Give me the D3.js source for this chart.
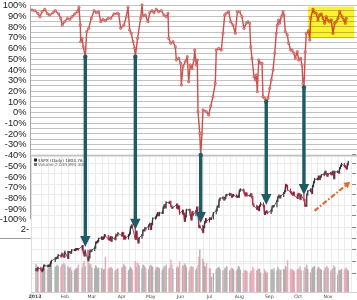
<!DOCTYPE html>
<html><head><meta charset="utf-8">
<script src="https://cdn.jsdelivr.net/npm/d3@7"></script>
<style>html,body{margin:0;padding:0;background:#fff;}svg{display:block;}</style>
</head><body><svg id="c" width="357" height="300"></svg>
<script>
// ---------- DATA ----------
const pctTicks = [100,90,80,70,60,50,40,30,20,10,0,-10,-20,-30,-40,-50,-60,-70,-80,-90,-100];
const pctGrid = [100,95,90,85,80,75,70,65,60,55,50,45,40,35,30,25,20,15,10,5,0,-5,-10,-15,-20,-25,-30,-35,-40,-45,-50];
// breadth series (day of year, %)
const topDays = [-3.1,-0.3,3.1,5.2,7.3,10.1,12.8,15.2,18.7,21.1,24.6,26.7,28.3,30.8,33.5,36.0,38.4,41.2,43.9,45.6,47.0,47.4,48.8,50.1,52.2,53.6,55.7,58.4,61.2,63.6,66.1,68.2,70.5,73.0,75.7,78.5,81.9,85.4,86.8,88.9,92.3,94.7,96.5,98.2,99.9,101.7,103.4,104.1,106.4,109.6,111.0,112.0,114.4,117.2,119.0,121.4,123.4,125.8,128.3,131.0,133.8,136.2,138.0,138.7,140.8,143.2,145.6,146.6,149.1,151.1,151.8,153.5,155.9,158.0,159.4,161.1,162.9,164.9,165.7,167.3,168.4,169.1,170.9,171.9,173.2,174.3,177.7,180.2,182.3,184.6,187.0,188.1,190.6,193.3,195.0,196.8,198.4,200.9,203.0,205.4,207.8,209.9,212.3,214.7,216.8,219.2,220.9,222.7,223.8,225.1,227.2,228.5,229.6,230.6,232.1,234.1,235.5,236.5,238.3,239.9,241.7,243.5,245.1,246.9,248.7,250.3,251.4,252.8,253.8,255.5,257.3,258.3,259.7,261.7,263.2,265.3,266.6,268.7,270.0,272.1,273.5,275.6,277.0,278.0,279.0,280.4,281.4,283.9,285.0,286.0,288.4,290.1,291.8,293.6,295.3,297.0,298.8,300.5,302.2,303.9,305.7,307.3,309.1,310.9,312.5,314.3,316.1,318.5,320.5,321.9,323.0];
const topValues = [95.3,94.7,92,89,93.7,96,92,90.6,92.8,94.7,91.6,87.5,81.3,84.4,87.5,86.6,89,91.6,93.7,97.8,81.3,65.7,68.8,61,51.7,75,78.2,87.5,94.7,92.8,93.7,84.4,86.6,85.3,87.5,87.5,91.6,92.2,91.6,78.2,81.3,89,97.8,76.6,73.5,65.7,59.5,51.7,68.8,87.5,100,89.7,90.6,84.4,92.8,94.7,92.8,96,93.7,94.7,90.6,89,92.2,68.8,64.2,65.7,61,48.6,50.2,45.5,25.2,42.4,47,51.7,28.3,43.9,40.8,48.6,57.9,43.9,48.6,0.3,-20,-40.2,-20,1.9,0.3,-2.8,5.6,14.3,26.8,57.9,59.5,57.9,73.5,90.6,92.2,93.7,84.4,81.3,73.5,93.7,93.7,89,78.2,82.9,84.4,82.9,61,50.2,33,29.9,34.6,19,48.6,45.5,45.5,14.3,12.8,9.6,12.8,22.1,29.9,39.3,54.9,73.5,81.3,86,82.9,89,93.7,90.6,75,72,64.2,57.9,57.9,54.9,50.2,56.4,48.6,50.2,43.9,26.8,23,56.4,73.5,76,67.3,87.5,96,92.8,92.2,86,90.6,91.6,87.5,82.9,89,86,84.4,86,73.5,82.9,84.4,87.5,93.7,89,86,82.9,87.5];
const arrowDays = [52.2,104.1,171.9,239.9,279.0];
const arrowTopValues = [51.7,51.7,-40.2,9.6,23];
const arrowTipPrices = [1527,1580,1601,1659,1692];
const trendDays = [290,327];
const trendPrices = [1640,1736];
const highlightDays = [283,331];
const highlightValues = [98.5,69];
const monthStarts = [0,31,59,90,120,151,181,212,243,273,304];
const monthLabels = ["2013","Feb","Mar","Apr","May","Jun","Jul","Aug","Sep","Oct","Nov"];
const spxDates = ["01-02","01-03","01-04","01-07","01-08","01-09","01-10","01-11","01-14","01-15","01-16","01-17","01-18","01-22","01-23","01-24","01-25","01-28","01-29","01-30","01-31",
"02-01","02-04","02-05","02-06","02-07","02-08","02-11","02-12","02-13","02-14","02-15","02-19","02-20","02-21","02-22","02-25","02-26","02-27","02-28",
"03-01","03-04","03-05","03-06","03-07","03-08","03-11","03-12","03-13","03-14","03-15","03-18","03-19","03-20","03-21","03-22","03-25","03-26","03-27","03-28",
"04-01","04-02","04-03","04-04","04-05","04-08","04-09","04-10","04-11","04-12","04-15","04-16","04-17","04-18","04-19","04-22","04-23","04-24","04-25","04-26","04-29","04-30",
"05-01","05-02","05-03","05-06","05-07","05-08","05-09","05-10","05-13","05-14","05-15","05-16","05-17","05-20","05-21","05-22","05-23","05-24","05-28","05-29","05-30","05-31",
"06-03","06-04","06-05","06-06","06-07","06-10","06-11","06-12","06-13","06-14","06-17","06-18","06-19","06-20","06-21","06-24","06-25","06-26","06-27","06-28",
"07-01","07-02","07-03","07-05","07-08","07-09","07-10","07-11","07-12","07-15","07-16","07-17","07-18","07-19","07-22","07-23","07-24","07-25","07-26","07-29","07-30","07-31",
"08-01","08-02","08-05","08-06","08-07","08-08","08-09","08-12","08-13","08-14","08-15","08-16","08-19","08-20","08-21","08-22","08-23","08-26","08-27","08-28","08-29","08-30",
"09-03","09-04","09-05","09-06","09-09","09-10","09-11","09-12","09-13","09-16","09-17","09-18","09-19","09-20","09-23","09-24","09-25","09-26","09-27","09-30",
"10-01","10-02","10-03","10-04","10-07","10-08","10-09","10-10","10-11","10-14","10-15","10-16","10-17","10-18","10-21","10-22","10-23","10-24","10-25","10-28","10-29","10-30","10-31",
"11-01","11-04","11-05","11-06","11-07","11-08","11-11","11-12","11-13","11-14","11-15","11-18","11-19","11-20","11-21","11-22"];
const spxClose = [1462,1459,1466,1462,1457,1461,1472,1472,1471,1472,1472,1481,1486,1493,1495,1495,1503,1500,1507,1502,1498,
1513,1495,1512,1512,1510,1518,1518,1520,1521,1521,1520,1530,1511,1502,1516,1488,1496,1516,1515,
1518,1525,1540,1542,1545,1552,1556,1552,1555,1563,1561,1552,1549,1558,1546,1556,1551,1564,1563,1569,
1562,1570,1553,1559,1553,1563,1568,1587,1593,1588,1552,1574,1552,1541,1555,1563,1578,1578,1585,1582,1593,1598,
1582,1597,1615,1618,1625,1632,1626,1633,1633,1650,1658,1651,1667,1666,1669,1655,1650,1650,1660,1648,1654,1631,
1640,1631,1608,1622,1643,1643,1627,1612,1636,1626,1639,1651,1628,1588,1592,1573,1588,1603,1613,1606,
1615,1614,1615,1632,1641,1653,1653,1675,1680,1683,1677,1681,1690,1692,1695,1693,1686,1690,1691,1686,1686,1686,
1706,1710,1707,1698,1690,1697,1691,1689,1694,1685,1661,1656,1646,1652,1642,1656,1664,1656,1630,1635,1638,1633,
1640,1653,1655,1655,1672,1684,1689,1683,1688,1698,1704,1725,1722,1710,1701,1697,1693,1699,1691,1682,
1695,1694,1678,1691,1676,1656,1656,1693,1704,1710,1698,1721,1734,1745,1745,1754,1746,1753,1759,1763,1771,1763,1757,
1762,1767,1762,1771,1748,1770,1771,1768,1783,1791,1798,1791,1787,1782,1796,1805];
const spxVolume = [3.9,3.6,3.5,3.3,3.4,3.5,3.6,3.3,3.2,3.4,3.5,3.6,4.0,3.5,3.6,3.8,3.6,3.5,3.8,3.9,4.1,
3.8,3.6,3.4,3.3,3.5,3.0,3.0,3.2,3.3,3.4,3.8,3.4,4.0,4.3,3.6,4.3,4.0,3.7,3.9,
3.4,3.3,3.7,3.5,3.2,3.4,3.3,3.3,3.1,3.2,4.9,3.2,3.4,3.3,3.5,3.3,3.0,3.1,3.2,3.3,
3.4,3.5,3.9,3.7,3.5,3.0,3.2,3.5,3.3,3.1,4.3,3.5,4.1,4.0,3.7,3.3,3.8,3.7,3.5,3.3,3.2,3.6,
3.8,3.6,3.5,3.1,3.4,3.5,3.4,3.3,3.0,3.3,3.6,3.4,3.8,3.3,3.4,4.5,3.8,3.2,3.4,3.6,3.4,4.2,
3.6,3.7,4.0,3.8,3.5,3.0,3.4,3.6,3.5,3.5,3.1,3.3,3.7,4.9,5.9,4.6,4.2,3.6,3.5,4.0,
3.3,3.3,2.1,2.6,3.2,3.3,3.4,3.5,3.2,3.0,3.1,3.3,3.4,3.6,3.0,3.1,3.4,3.3,3.1,2.9,3.2,3.6,
3.5,3.1,2.6,3.0,3.1,3.0,2.9,2.6,2.9,3.0,3.5,3.2,3.0,3.1,3.3,3.2,2.7,2.5,3.2,2.9,2.6,2.8,
3.1,3.2,2.9,3.3,3.0,3.5,3.2,3.0,3.1,3.2,3.1,3.6,3.3,4.4,3.2,3.1,3.2,3.0,2.9,3.1,
3.2,3.3,3.6,3.0,3.0,3.5,3.3,3.8,3.2,2.7,3.2,3.4,3.5,3.6,3.2,3.5,3.4,3.2,3.1,3.0,3.4,3.5,3.6,
3.3,3.0,3.1,3.3,3.7,3.5,2.4,3.0,3.1,3.0,3.2,3.1,3.3,3.4,3.1,3.0];
const legendPrice = "$SPX (Daily) 1804.76";
const legendVolume = "Volume 2,049,894,400";

// ---------- SCALES ----------
const svg = d3.select("#c");
const x = d3.scaleLinear().domain([0,330]).range([35,353.1]);
const yTop = d3.scaleLinear().domain([-100,100]).range([219,5]);
const yPx = d3.scaleLog().domain([1573,1805]).range([232,162]);
const yVol = d3.scaleLinear().domain([0,10]).range([292,220]);
const jan1 = new Date(2013,0,1);
const spx = spxDates.map((s,i)=>{
  const [m,d]=s.split("-").map(Number);
  return {day:d3.timeDay.count(jan1,new Date(2013,m-1,d)), close:spxClose[i], vol:spxVolume[i], prev: i? spxClose[i-1]: spxClose[0]-3};
});
const crisp = v => Math.round(v)+0.5;

// ---------- EXCEL CHART ----------
svg.append("g").selectAll("line").data(pctGrid).join("line")
  .attr("x1",30).attr("x2",357).attr("y1",d=>crisp(yTop(d))).attr("y2",d=>crisp(yTop(d)))
  .attr("stroke","#c2c2c2").attr("stroke-width",1);
svg.append("line").attr("x1",30.5).attr("x2",30.5).attr("y1",yTop(100)).attr("y2",yTop(-100))
  .attr("stroke","#a8a8a8");
svg.append("g").selectAll("text").data(pctTicks).join("text")
  .attr("x",26.5).attr("y",d=>yTop(d)+3.3).attr("text-anchor","end")
  .attr("font-family","Liberation Sans, Arial, sans-serif").attr("font-size",9.3).attr("fill","#1a1a1a")
  .text(d=>d+"%");
svg.append("text").attr("x",29).attr("y",232).attr("text-anchor","end")
  .attr("font-family","Liberation Sans, Arial, sans-serif").attr("font-size",9.3).attr("fill","#1a1a1a").text("2-");
svg.append("line").attr("x1",0).attr("x2",32).attr("y1",238.5).attr("y2",238.5).attr("stroke","#9a9a9a");

// ---------- STOCK CHART PANEL ----------
const panel = svg.append("g");
panel.append("rect").attr("x",31.5).attr("y",156.5).attr("width",330).attr("height",145)
  .attr("fill","#fff").attr("stroke","#dedede");
const weeks = d3.range(6,330,7);
panel.append("g").selectAll("line").data(weeks).join("line")
  .attr("x1",d=>crisp(x(d))).attr("x2",d=>crisp(x(d))).attr("y1",157).attr("y2",292)
  .attr("stroke","#ebebeb");
const pGrid = d3.range(1450,1850,35);
panel.append("g").selectAll("line").data(pGrid).join("line")
  .attr("x1",32).attr("x2",352).attr("y1",d=>crisp(yPx(d))).attr("y2",d=>crisp(yPx(d)))
  .attr("stroke","#ebebeb");
panel.append("g").selectAll("line").data(pGrid).join("line")
  .attr("x1",352).attr("x2",356).attr("y1",d=>crisp(yPx(d))).attr("y2",d=>crisp(yPx(d)))
  .attr("stroke","#888");
[2,4].forEach(v=>panel.append("line").attr("x1",32).attr("x2",352).attr("y1",crisp(yVol(v))).attr("y2",crisp(yVol(v))).attr("stroke","#ebebeb"));
panel.append("line").attr("x1",32).attr("x2",357).attr("y1",292.5).attr("y2",292.5).attr("stroke","#cfcfcf");

// volume
panel.append("g").selectAll("rect").data(spx).join("rect")
  .attr("x",d=>x(d.day)-0.7).attr("width",1.4)
  .attr("y",d=>yVol(d.vol)).attr("height",d=>yVol(0)-yVol(d.vol))
  .attr("fill",d=>d.close<d.prev?"#eeaab8":"#b0b0b0");

// price line + candles
panel.append("path").datum(spx)
  .attr("d",d3.line().x(d=>x(d.day)).y(d=>yPx(d.close)))
  .attr("fill","none").attr("stroke","#3a3a3a").attr("stroke-width",0.8);
panel.append("g").selectAll("line").data(spx).join("line")
  .attr("x1",d=>x(d.day)).attr("x2",d=>x(d.day))
  .attr("y1",d=>yPx(d.prev)+(d.close<d.prev?-1:1)).attr("y2",d=>yPx(d.close)+(d.close<d.prev?1.2:-1.2))
  .attr("stroke",d=>d.close<d.prev?"#d01240":"#333").attr("stroke-width",1.1);

// axis labels
panel.append("g").selectAll("text").data(monthStarts).join("text")
  .attr("x",d=>x(d)).attr("y",298).attr("text-anchor","middle")
  .attr("font-family","DejaVu Sans, sans-serif").attr("font-size",4.6)
  .attr("font-weight",(d,i)=>i===0?"bold":"normal").attr("fill","#444")
  .text((d,i)=>monthLabels[i]);

// legend
const lg = panel.append("g").attr("font-family","DejaVu Sans, sans-serif").attr("font-size",4.2).attr("fill","#333");
lg.append("rect").attr("x",34).attr("y",158.5).attr("width",3).attr("height",3).attr("fill","#222");
lg.append("text").attr("x",38).attr("y",161.5).text(legendPrice);
lg.append("rect").attr("x",34).attr("y",163).attr("width",3).attr("height",3).attr("fill","#777");
lg.append("text").attr("x",38).attr("y",166).attr("fill","#666").text(legendVolume);

// ---------- BREADTH LINE ----------
const topData = topDays.map((d,i)=>({day:d,v:topValues[i]}));
svg.append("path").datum(topData)
  .attr("d",d3.line().x(d=>x(d.day)).y(d=>yTop(d.v)))
  .attr("fill","none").attr("stroke","#cc4f4b").attr("stroke-width",1.4).attr("stroke-linejoin","round");
svg.append("g").selectAll("circle").data(topData).join("circle")
  .attr("cx",d=>x(d.day)).attr("cy",d=>yTop(d.v)).attr("r",1.2)
  .attr("fill","#e3908d").attr("stroke","#c84c48").attr("stroke-width",0.6);

// highlight box (multiply)
svg.append("rect")
  .attr("x",x(highlightDays[0])).attr("width",x(highlightDays[1])-x(highlightDays[0]))
  .attr("y",yTop(highlightValues[0])).attr("height",yTop(highlightValues[1])-yTop(highlightValues[0]))
  .attr("fill","#fdf22e").style("mix-blend-mode","multiply");

// ---------- ARROWS ----------
const teal = "#1f5b64";
const arrows = arrowDays.map((d,i)=>({day:d,top:arrowTopValues[i],tip:arrowTipPrices[i]}));
const ag = svg.append("g");
ag.selectAll("line").data(arrows).join("line")
  .attr("x1",d=>x(d.day)).attr("x2",d=>x(d.day))
  .attr("y1",d=>yTop(d.top)).attr("y2",d=>yPx(d.tip)-9)
  .attr("stroke",teal).attr("stroke-width",3.4);
ag.selectAll("path").data(arrows).join("path")
  .attr("d",d=>{const cx=x(d.day), ty=yPx(d.tip); return `M${cx-5.2},${ty-11}L${cx+5.2},${ty-11}L${cx},${ty}Z`;})
  .attr("fill",teal);
ag.selectAll("circle").data(arrows).join("circle")
  .attr("cx",d=>x(d.day)).attr("cy",d=>yTop(d.top)).attr("r",2.2).attr("fill",teal);

// dashed trend arrow
const tx0=x(trendDays[0]), ty0=yPx(trendPrices[0]), tx1=x(trendDays[1]), ty1=yPx(trendPrices[1]);
const ang=Math.atan2(ty1-ty0,tx1-tx0), hl=6, hw=3.4;
const bx=tx1-hl*Math.cos(ang), by=ty1-hl*Math.sin(ang);
svg.append("line").attr("x1",tx0).attr("y1",ty0).attr("x2",bx).attr("y2",by)
  .attr("stroke","#e2672e").attr("stroke-width",2.2).attr("stroke-dasharray","5,2,1.6,2");
svg.append("path")
  .attr("d",`M${tx1},${ty1}L${bx-hw*Math.sin(ang)},${by+hw*Math.cos(ang)}L${bx+hw*Math.sin(ang)},${by-hw*Math.cos(ang)}Z`)
  .attr("fill","#e2672e");
</script></body></html>
